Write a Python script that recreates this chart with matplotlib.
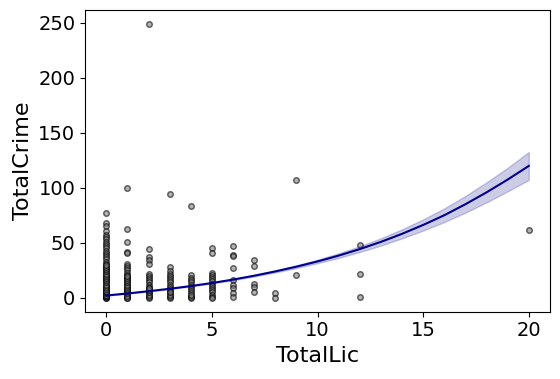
import matplotlib
matplotlib.use("Agg")
import matplotlib.pyplot as plt

# Scatter data: TotalCrime values for each TotalLic value
crime_by_lic = {
    0: [77, 68, 65, 61, 57, 55, 53, 51, 49, 47, 45, 43, 41, 39, 37, 35, 33, 31, 29, 27,
        25, 23, 21, 19, 17, 15, 13, 11, 9, 7, 5, 3, 1, 0, 0, 1, 2, 2, 3, 4, 5, 6, 8, 10,
        12, 14, 16, 18, 20, 22, 24, 26, 28, 30],
    1: [100, 62.5, 51, 42, 41, 31, 29, 27, 25, 23, 21, 19, 17, 15, 13, 11, 9, 7, 5, 3, 1,
        0, 0, 2, 4, 6, 8, 10, 12, 14, 16, 18, 20],
    2: [249, 44, 37, 34, 31, 22, 20, 18, 16, 14, 12, 10, 8, 6, 4, 2, 0, 1, 3, 5, 7, 9],
    3: [94, 28, 24, 22, 20, 18, 16, 14, 12, 10, 8, 6, 4, 2, 0, 1, 3, 5],
    4: [83, 20.5, 18, 16, 14, 12, 10, 8, 6, 4, 2, 0, 1, 3],
    5: [45, 41, 23, 21, 19, 17, 15, 13, 11, 9, 7, 5, 3, 1, 0],
    6: [47, 39, 38, 27.5, 16, 12, 8.5, 4.5, 1],
    7: [34, 29, 12.4, 9.4, 5],
    8: [4, 0],
    9: [107, 20.5],
    12: [48, 21.4, 0.6],
    20: [62],
}

# Fitted curve and confidence band
fit_x = [0, 1, 2, 3, 4, 5, 6, 7, 8, 9, 10, 11, 12, 13, 14, 15, 16, 17, 18, 19, 20]
fit_y = [2.1, 3.97, 6.0, 8.22, 10.69, 13.46, 16.58, 20.08, 23.98, 28.3, 33.07, 38.37,
         44.27, 50.84, 58.14, 66.21, 75.03, 85.03, 95.83, 107.43, 119.83]
fit_lo = [2.02, 3.83, 5.8, 7.97, 10.37, 13.04, 16.03, 19.36, 23.04, 27.05, 31.47, 36.27,
          41.67, 47.54, 54.04, 61.11, 68.83, 77.43, 86.73, 96.73, 107.13]
fit_hi = [2.18, 4.11, 6.2, 8.47, 11.01, 13.88, 17.13, 20.8, 24.92, 29.55, 34.67, 40.47,
          46.87, 54.14, 62.24, 71.31, 81.23, 92.63, 104.93, 118.13, 132.53]

xs, ys = [], []
for lic, vals in crime_by_lic.items():
    xs.extend([lic] * len(vals))
    ys.extend(vals)

fig = plt.figure(figsize=(5.6, 3.79), dpi=100)
ax = fig.add_axes([0.152, 0.178, 0.830, 0.7955])

ax.scatter(xs, ys, s=16, c="gray", edgecolors="black", alpha=0.6, linewidths=1.0, zorder=2)
ax.fill_between(fit_x, fit_lo, fit_hi, color="darkblue", alpha=0.2, zorder=3)
ax.plot(fit_x, fit_y, color="darkblue", lw=1.5, zorder=4)

ax.set_xlabel("TotalLic", fontsize=16)
ax.set_ylabel("TotalCrime", fontsize=16)
ax.tick_params(labelsize=14)
ax.set_xticks([0, 5, 10, 15, 20])
ax.set_yticks([0, 50, 100, 150, 200, 250])

fig.savefig("out.png", dpi=100)
